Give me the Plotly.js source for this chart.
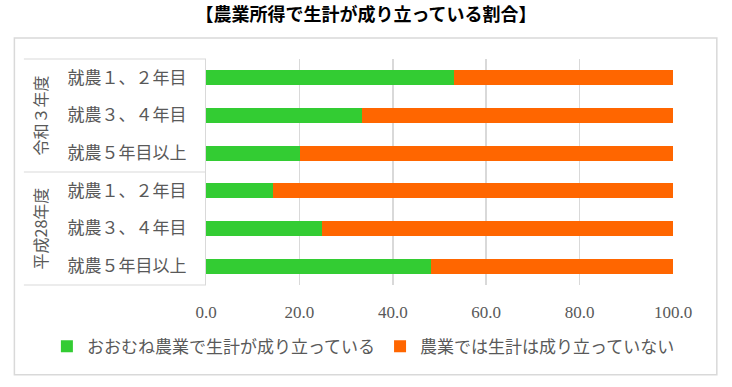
<!DOCTYPE html>
<html>
<head>
<meta charset="utf-8">
<script src="https://cdn.plot.ly/plotly-3.0.1.min.js"></script>
<style>html,body{margin:0;padding:0;background:#fff;}#chart{width:732px;height:387px;}</style>
</head>
<body>
<div id="chart"></div>
<script>
const groups = ["令和３年度", "平成28年度"];
const categories = ["就農１、２年目", "就農３、４年目", "就農５年目以上", "就農１、２年目", "就農３、４年目", "就農５年目以上"];
const seriesNames = ["おおむね農業で生計が成り立っている", "農業では生計は成り立っていない"];
const viable = [53.1, 33.4, 20.1, 14.4, 24.8, 48.1];
const notViable = viable.map(v => +(100 - v).toFixed(1));
const xTicks = [0, 20, 40, 60, 80, 100];

const pos = categories.map((c, i) => i);
const jpFont = "Noto Sans CJK JP";
const gray = "#595959";

const traces = [
  {type: "bar", orientation: "h", name: seriesNames[0], x: viable, y: pos,
   marker: {color: "#33CC33"}, width: 0.39, hoverinfo: "x"},
  {type: "bar", orientation: "h", name: seriesNames[1], x: notViable, y: pos,
   marker: {color: "#FF6600"}, width: 0.39, hoverinfo: "x"}
];

// layout geometry in px
const L = 206, R = 672.7, T = 59, B = 285.2;
const W = R - L, H = B - T;
const px2x = p => (p - L) / W;
const py2y = p => (B - p) / H;

const groupSize = categories.length / groups.length;
const annotations = groups.map((g, gi) => ({
  text: g, xref: "paper", yref: "y", x: px2x(40), y: gi * groupSize + (groupSize - 1) / 2,
  textangle: -90, showarrow: false, xanchor: "center", yanchor: "middle",
  font: {family: jpFont, size: 16, color: gray}
}));

const lineStyle = {color: "#d9d9d9", width: 1};
const shapes = [
  {type: "rect", xref: "paper", yref: "paper", x0: px2x(14.5), x1: px2x(716.5), y0: py2y(375), y1: py2y(38), line: {color: "#d9d9d9", width: 1.5}},
  {type: "line", xref: "paper", yref: "paper", x0: px2x(24), x1: 0, y0: 1, y1: 1, line: lineStyle},
  {type: "line", xref: "paper", yref: "paper", x0: px2x(24), x1: 0, y0: 0, y1: 0, line: lineStyle},
  {type: "line", xref: "paper", yref: "y", x0: px2x(24), x1: 0, y0: groupSize - 0.5, y1: groupSize - 0.5, line: lineStyle}
];

const layout = {
  width: 732, height: 387,
  margin: {l: L, r: 732 - R, t: T, b: 387 - B, pad: 0},
  paper_bgcolor: "#fff", plot_bgcolor: "#fff",
  barmode: "stack",
  title: {text: "【農業所得で生計が成り立っている割合】", x: 0.5, xanchor: "center", y: 1 - 15 / 387, yanchor: "middle",
          font: {family: jpFont, size: 18, color: "#000", weight: 700}},
  xaxis: {range: [0, 100], tickvals: xTicks, tickformat: ".1f", showgrid: true, gridcolor: "#d9d9d9", gridwidth: 1.5,
          zeroline: false, showline: false, ticks: "", ticklabelstandoff: 15,
          tickfont: {family: "Liberation Serif", size: 17, color: gray}, fixedrange: true},
  yaxis: {range: [categories.length - 0.5, -0.5], tickvals: pos, ticktext: categories, showgrid: false, zeroline: false,
          showline: true, linecolor: "#d9d9d9", linewidth: 1, ticks: "", ticklabelstandoff: 15,
          tickfont: {family: jpFont, size: 17, color: gray}, fixedrange: true},
  legend: {orientation: "h", x: px2x(47), xanchor: "left", y: py2y(347), yanchor: "middle",
           font: {family: jpFont, size: 17, color: gray}, itemwidth: 30, traceorder: "normal", tracegroupgap: 0},
  annotations: annotations,
  shapes: shapes,
  showlegend: true
};

Plotly.newPlot("chart", traces, layout, {displayModeBar: false, staticPlot: true});
</script>
</body>
</html>
